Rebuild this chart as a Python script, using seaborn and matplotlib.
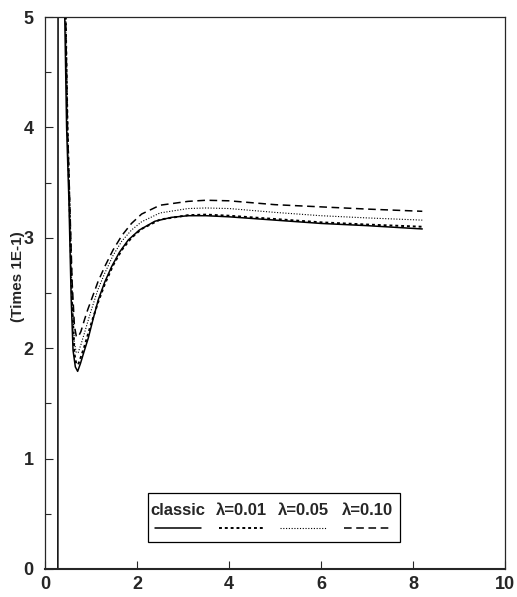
import matplotlib
matplotlib.use("Agg")
import numpy as np
import pandas as pd
import matplotlib.pyplot as plt
import seaborn as sns
from matplotlib.lines import Line2D
from matplotlib.patches import Rectangle

# (y in units of 1E-1)
x_classic = [0.28, 0.29, 0.43, 0.47, 0.52, 0.57, 0.61, 0.66, 0.71, 0.77, 0.85, 0.94, 1.05,
             1.16, 1.30, 1.45, 1.62, 1.81, 2.05, 2.39, 2.75, 3.11, 3.50, 4.00, 5.00, 6.00,
             7.00, 8.20]
y_classic = [0.0, 12.0, 5.0, 4.0, 3.34, 2.44, 1.98, 1.83, 1.79, 1.86, 1.97, 2.09, 2.27,
             2.44, 2.60, 2.74, 2.87, 2.98, 3.07, 3.15, 3.185, 3.20, 3.20, 3.19, 3.16, 3.13,
             3.11, 3.08]

x_lam = [0.38, 0.45, 0.49, 0.54, 0.59, 0.64, 0.68, 0.72, 0.78, 0.86, 0.93, 1.01, 1.15,
         1.30, 1.48, 1.67, 1.88, 2.10, 2.50, 3.11, 3.50, 4.00, 5.00, 6.00, 7.00, 8.20]
y_l001 = [12.0, 5.0, 4.0, 3.2, 2.4, 1.95, 1.86, 1.85, 1.92, 2.02, 2.12, 2.23, 2.41,
          2.58, 2.75, 2.89, 3.00, 3.08, 3.165, 3.205, 3.21, 3.20, 3.17, 3.14, 3.12, 3.10]
y_l005 = [12.0, 5.0, 4.0, 3.2, 2.45, 2.05, 1.96, 1.96, 2.03, 2.14, 2.24, 2.35, 2.53,
          2.68, 2.84, 2.97, 3.07, 3.145, 3.225, 3.265, 3.27, 3.265, 3.23, 3.20, 3.18, 3.16]
y_l010 = [12.0, 5.0, 4.0, 3.3, 2.6, 2.2, 2.11, 2.10, 2.15, 2.26, 2.35, 2.44, 2.60,
          2.74, 2.89, 3.02, 3.13, 3.215, 3.295, 3.33, 3.34, 3.335, 3.30, 3.28, 3.26, 3.24]

labels = ["classic", "λ=0.01", "λ=0.05", "λ=0.10"]

df = pd.concat([
    pd.DataFrame({"x": x_classic, "y": y_classic, "case": labels[0]}),
    pd.DataFrame({"x": x_lam, "y": y_l001, "case": labels[1]}),
    pd.DataFrame({"x": x_lam, "y": y_l005, "case": labels[2]}),
    pd.DataFrame({"x": x_lam, "y": y_l010, "case": labels[3]}),
])

dash_map = {labels[0]: "", labels[1]: (1.5, 1.5), labels[2]: (1, 1.5), labels[3]: (5, 3)}
width_map = {labels[0]: 1.1, labels[1]: 1.4, labels[2]: 0.8, labels[3]: 1.1}

sns.set_style("ticks")
plt.rcParams["font.family"] = ["Liberation Sans", "DejaVu Sans"]

fig = plt.figure(figsize=(5.17, 5.97), dpi=100)
ax = fig.add_axes([0.087, 0.047, 0.890, 0.9245])

for lab in labels:
    sub = df[df["case"] == lab]
    sns.lineplot(data=sub, x="x", y="y", ax=ax, color="black", sort=False,
                 estimator=None, linewidth=width_map[lab], legend=False)
    if dash_map[lab]:
        ax.lines[-1].set_dashes(dash_map[lab])

ax.set_xlim(0, 10)
ax.set_ylim(0, 5)
ax.set_xticks([0, 2, 4, 6, 8, 10])
ax.set_yticks([0, 1, 2, 3, 4, 5])
ax.set_yticks(np.arange(0.5, 5, 1.0), minor=True)
ax.tick_params(axis="both", which="major", direction="in", length=6, width=0.8,
               labelsize=13, pad=5)
ax.tick_params(axis="y", which="minor", direction="in", length=4, width=0.8)
ax.tick_params(axis="y", pad=8)
for t in ax.get_xticklabels() + ax.get_yticklabels():
    t.set_fontweight("bold")

ax.set_xlabel("")
ax.set_ylabel("(Times 1E-1)", fontsize=11, fontweight="bold")
ax.yaxis.set_label_coords(-0.043, 0.53)

for side in ["top", "right", "left"]:
    ax.spines[side].set_linewidth(0.9)
ax.spines["bottom"].set_linewidth(1.5)

# legend: labels on top, line samples below
ax.add_patch(Rectangle((0.224, 0.049), 0.548, 0.089, transform=ax.transAxes,
                       fill=False, edgecolor="black", linewidth=0.9, zorder=5))
centers = [0.289, 0.428, 0.561, 0.700]
for c, lab in zip(centers, labels):
    ax.text(c, 0.105, lab, transform=ax.transAxes, ha="center", va="center",
            fontsize=12, fontweight="bold", zorder=6)
    ln = Line2D([c - 0.05, c + 0.05], [0.075, 0.075], transform=ax.transAxes,
                color="black", linewidth=width_map[lab], zorder=6)
    if dash_map[lab]:
        ln.set_dashes(dash_map[lab])
    ax.add_line(ln)

fig.savefig("out.png", dpi=100)
